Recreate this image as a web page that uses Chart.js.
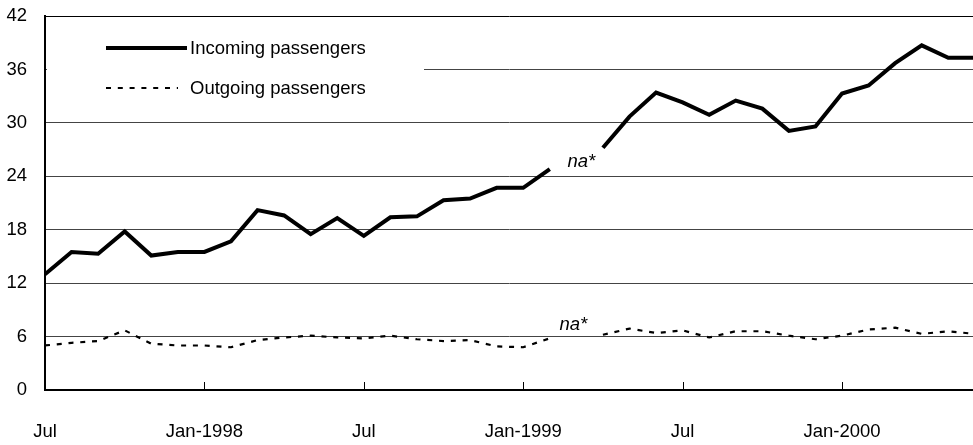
<!DOCTYPE html>
<html>
<head>
<meta charset="utf-8">
<script src="https://cdn.jsdelivr.net/npm/chart.js@4/dist/chart.umd.min.js"></script>
<style>
  html, body { margin: 0; padding: 0; background: #fff; }
  #wrap { width: 973px; height: 445px; }
</style>
</head>
<body>
<div id="wrap"><canvas id="c" width="973" height="445"></canvas></div>
<script>
// Monthly passenger counts, July 1997 to June 2000 (null = not available)
const months = [
  'Jul-1997','Aug-1997','Sep-1997','Oct-1997','Nov-1997','Dec-1997',
  'Jan-1998','Feb-1998','Mar-1998','Apr-1998','May-1998','Jun-1998',
  'Jul-1998','Aug-1998','Sep-1998','Oct-1998','Nov-1998','Dec-1998',
  'Jan-1999','Feb-1999','Mar-1999','Apr-1999','May-1999','Jun-1999',
  'Jul-1999','Aug-1999','Sep-1999','Oct-1999','Nov-1999','Dec-1999',
  'Jan-2000','Feb-2000','Mar-2000','Apr-2000','May-2000','Jun-2000'
];
const incoming = [
  13.0, 15.5, 15.3, 17.8, 15.1, 15.5,
  15.5, 16.7, 20.2, 19.6, 17.5, 19.3,
  17.3, 19.4, 19.5, 21.3, 21.5, 22.7,
  22.7, 24.8, null, 27.2, 30.7, 33.4,
  32.3, 30.9, 32.5, 31.6, 29.1, 29.6,
  33.3, 34.2, 36.7, 38.7, 37.3, 37.3
];
const outgoing = [
  5.0, 5.3, 5.5, 6.7, 5.2, 5.0,
  5.0, 4.8, 5.6, 5.9, 6.1, 5.9,
  5.8, 6.1, 5.7, 5.5, 5.6, 4.9,
  4.8, 5.8, null, 6.2, 6.9, 6.4,
  6.7, 5.9, 6.6, 6.6, 6.1, 5.7,
  6.1, 6.8, 7.0, 6.3, 6.6, 6.3
];
const seriesNames = ['Incoming passengers', 'Outgoing passengers'];
const xTickIndex = [0, 6, 12, 18, 24, 30];
const xTickLabels = ['Jul', 'Jan-1998', 'Jul', 'Jan-1999', 'Jul', 'Jan-2000'];
const yTicks = [0, 6, 12, 18, 24, 30, 36, 42];
const naIndex = 20;
const naText = 'na*';

const FONT = "'Liberation Sans', Arial, sans-serif";
const FSIZE = 18.5;

const toPoints = arr => arr.map((v, i) => ({ x: i, y: v }));

// inward tick marks on the month axis, "na*" notes and the legend box
const decorations = {
  id: 'decorations',
  afterDraw(chart) {
    const ctx = chart.ctx;
    const xs = chart.scales.x, ys = chart.scales.y;
    const area = chart.chartArea;
    ctx.save();
    // tick marks pointing into the plot
    ctx.strokeStyle = '#000';
    ctx.lineWidth = 1;
    xTickIndex.forEach(i => {
      const px = Math.round(xs.getPixelForValue(i)) + 0.5;
      ctx.beginPath();
      ctx.moveTo(px, area.bottom);
      ctx.lineTo(px, area.bottom - 8);
      ctx.stroke();
    });
    // na* notes at the missing month
    ctx.fillStyle = '#000';
    ctx.font = 'italic ' + FSIZE + 'px ' + FONT;
    ctx.textBaseline = 'middle';
    ctx.textAlign = 'center';
    const nx = xs.getPixelForValue(naIndex);
    ctx.fillText(naText, nx + 5, ys.getPixelForValue(25.6));
    ctx.fillText(naText, nx - 3, ys.getPixelForValue(7.3));

    // legend panel
    ctx.fillStyle = '#fff';
    ctx.fillRect(area.left + 2, area.top + 10, 377, 94);
    const styles = [
      { width: 4, dash: [], end: 187 },
      { width: 2.2, dash: [5, 6.8], end: 178 }
    ];
    const rows = [48, 88];
    ctx.font = FSIZE + 'px ' + FONT;
    ctx.textAlign = 'left';
    seriesNames.forEach((name, k) => {
      ctx.strokeStyle = '#000';
      ctx.lineWidth = styles[k].width;
      ctx.setLineDash(styles[k].dash);
      ctx.beginPath();
      ctx.moveTo(106, rows[k]);
      ctx.lineTo(styles[k].end, rows[k]);
      ctx.stroke();
      ctx.setLineDash([]);
      ctx.fillStyle = '#000';
      ctx.fillText(name, 190, rows[k] + 1);
    });
    ctx.restore();
  }
};

new Chart(document.getElementById('c'), {
  type: 'line',
  data: {
    datasets: [
      {
        label: seriesNames[0],
        data: toPoints(incoming),
        borderColor: '#000',
        borderWidth: 4,
        pointRadius: 0,
        tension: 0,
        spanGaps: false
      },
      {
        label: seriesNames[1],
        data: toPoints(outgoing),
        borderColor: '#000',
        borderWidth: 2.2,
        borderDash: [5, 6.8],
        pointRadius: 0,
        tension: 0,
        spanGaps: false
      }
    ]
  },
  options: {
    responsive: false,
    animation: false,
    events: [],
    layout: { padding: { top: 16, right: 0, left: 0, bottom: 0 } },
    plugins: { legend: { display: false }, tooltip: { enabled: false } },
    scales: {
      x: {
        type: 'linear',
        min: 0,
        max: 34.93,
        afterBuildTicks: s => { s.ticks = xTickIndex.map(v => ({ value: v })); },
        afterFit: s => { s.height = 55; s.paddingLeft = 0; s.paddingRight = 0; },
        grid: { display: false, drawTicks: false },
        border: { display: true, color: '#000', width: 2 },
        ticks: {
          autoSkip: false,
          maxRotation: 0,
          padding: 31,
          color: '#000',
          font: { family: FONT, size: FSIZE },
          callback: v => xTickLabels[xTickIndex.indexOf(v)]
        }
      },
      y: {
        min: 0,
        max: 42,
        afterBuildTicks: s => { s.ticks = yTicks.map(v => ({ value: v })); },
        afterFit: s => { s.width = 45; s.paddingTop = 0; s.paddingBottom = 0; },
        grid: {
          color: ctx => ctx.tick && ctx.tick.value === 42 ? '#000' : '#444',
          lineWidth: 1,
          drawTicks: false
        },
        border: { display: true, color: '#000', width: 2 },
        ticks: {
          padding: 18,
          color: '#000',
          font: { family: FONT, size: FSIZE }
        }
      }
    }
  },
  plugins: [decorations]
});
</script>
</body>
</html>
